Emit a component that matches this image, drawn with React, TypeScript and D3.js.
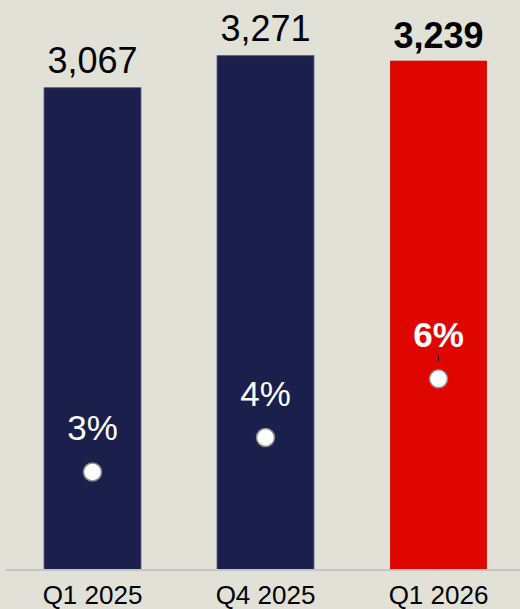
import React from "react";
import * as d3 from "d3";

const categories = ["Q1 2025", "Q4 2025", "Q1 2026"];
const volumes = [3067, 3271, 3239];
const growthPct = [3.4, 4.4, 6.1];
const highlighted = [false, false, true];

const W = 520;
const H = 609;
const NAVY = "#1a1f4c";
const RED = "#e00600";
const BG = "#e1e1d7";
const FONT = "'Liberation Sans', Arial, Helvetica, sans-serif";

export default function App() {
  const x = d3.scaleBand<string>().domain(categories).range([6, 525]).paddingInner(0.44).paddingOuter(0.22);
  const y = d3.scaleLinear().domain([0, 3625]).range([570, 0]);
  const y2 = d3.scaleLinear().domain([0, 10]).range([589.3, 244.3]);
  const fmt = d3.format(",");

  return (
    <svg
      width={W}
      height={H}
      style={{ position: "absolute", left: 0, top: 0, display: "block" }}
      fontFamily={FONT}
    >
      <rect x={0} y={0} width={W} height={H} fill={BG} />
      {categories.map((c, i) => {
        const bx = x(c)!;
        const bw = x.bandwidth();
        const top = y(volumes[i]);
        const cx = bx + bw / 2;
        const dy = y2(growthPct[i]);
        const hl = highlighted[i];
        return (
          <g key={c}>
            <rect
              x={bx}
              y={top}
              width={bw}
              height={y(0) - top}
              fill={hl ? RED : NAVY}
              stroke={hl ? "none" : "#4a5078"}
              strokeWidth={hl ? 0 : 0.8}
            />
            <text
              x={cx}
              y={top - (hl ? 13 : 14.5)}
              textAnchor="middle"
              fontSize={36}
              fontWeight={hl ? "bold" : "normal"}
              fill="#000"
            >
              {fmt(volumes[i])}
            </text>
            <text
              x={cx}
              y={dy - 32}
              textAnchor="middle"
              fontSize={35}
              fontWeight={hl ? "bold" : "normal"}
              fill="#fff"
            >
              {Math.round(growthPct[i]) + "%"}
            </text>
            {hl && (
              <line x1={cx} x2={cx} y1={dy - 24} y2={dy - 18} stroke="#000" strokeWidth={1} />
            )}
            <circle cx={cx} cy={dy} r={9} fill="#fff" stroke="#8c8c8c" strokeWidth={1.5} />
            <text x={cx} y={603.5} textAnchor="middle" fontSize={26} fill="#000">
              {c}
            </text>
          </g>
        );
      })}
      <line x1={6} x2={W} y1={570} y2={570} stroke="#c3c3c3" strokeWidth={2} />
    </svg>
  );
}
